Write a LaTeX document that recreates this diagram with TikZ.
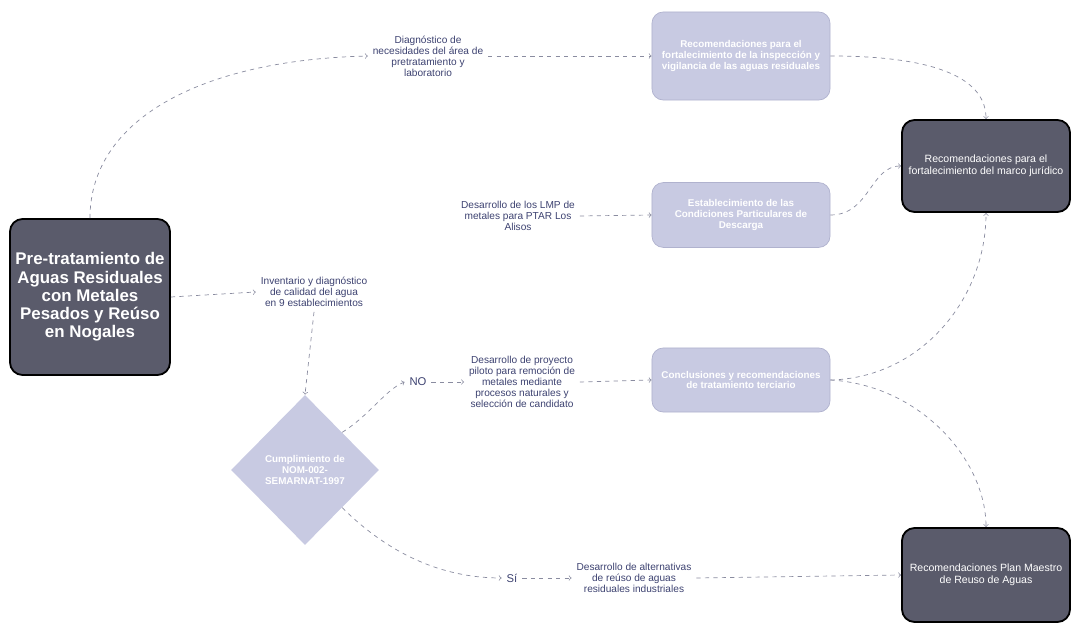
\documentclass[tikz,border=0pt]{standalone}
\usepackage{fontspec}
\setmainfont{Liberation Sans}
\usetikzlibrary{shapes}

\definecolor{caja}{HTML}{5A5B6B}
\definecolor{cajaclara}{HTML}{C8CAE2}
\definecolor{bordeclaro}{HTML}{B0B2CE}
\definecolor{texto}{HTML}{3C4170}
\definecolor{linea}{HTML}{8A8CA0}

\begin{document}
\begin{tikzpicture}[x=0.025cm,y=-0.025cm,line width=0.5pt]
\tikzstyle{oscuro}=[draw=black,line width=1.3pt,fill=caja,rounded corners=9pt,text=white,align=center,font=\fontsize{7.5}{8.2}\selectfont];
\tikzstyle{claro}=[draw=bordeclaro,fill=cajaclara,rounded corners=8pt,text=white,align=center,font=\bfseries\fontsize{7}{7.8}\selectfont,minimum width=4.45cm];
\tikzstyle{etiq}=[text=texto,align=center,font=\fontsize{7.2}{7.9}\selectfont];
\tikzstyle{dir}=[->,draw=linea,dashed];

\useasboundingbox (0,0) rectangle (1073,628);

\node [oscuro,minimum width=4cm,minimum height=3.9cm,font=\bfseries\fontsize{12}{13}\selectfont] (v0) at (90,297) {Pre-tratamiento de\\Aguas Residuales\\con Metales\\Pesados y Reúso\\en Nogales};
\node [claro,minimum height=2.2cm] (vA) at (741,56) {Recomendaciones para el\\fortalecimiento de la inspección y\\vigilancia de las aguas residuales};
\node [claro,minimum height=1.62cm] (vB) at (741,215) {Establecimiento de las\\Condiciones Particulares de\\Descarga};
\node [claro,minimum height=1.6cm] (vC) at (741,380) {Conclusiones y recomendaciones\\de tratamiento terciario};
\node [oscuro,minimum width=4.2cm,minimum height=2.3cm] (vD) at (986,166) {Recomendaciones para el\\fortalecimiento del marco jurídico};
\node [oscuro,minimum width=4.2cm,minimum height=2.35cm] (vE) at (986,575) {Recomendaciones Plan Maestro\\de Reuso de Aguas};
\node [diamond,aspect=1,fill=cajaclara,inner sep=0pt,minimum width=3.7cm,minimum height=3.75cm,text=white,align=center,font=\bfseries\fontsize{7}{7.8}\selectfont] (d) at (305,470) {Cumplimiento de\\NOM-002-\\SEMARNAT-1997};

\node [etiq] (t1) at (428,56) {Diagnóstico de\\necesidades del área de\\pretratamiento y\\laboratorio};
\node [etiq] (t2) at (518,216) {Desarrollo de los LMP de\\metales para PTAR Los\\Alisos};
\node [etiq] (t3) at (314,292) {Inventario y diagnóstico\\de calidad del agua\\en 9 establecimientos};
\node [etiq] (t4) at (522,382) {Desarrollo de proyecto\\piloto para remoción de\\metales mediante\\procesos naturales y\\selección de candidato};
\node [etiq] (t5) at (634,578) {Desarrollo de alternativas\\de reúso de aguas\\residuales industriales};
\node [text=texto,font=\fontsize{8}{9}\selectfont] (no) at (418,382) {NO};
\node [text=texto,font=\fontsize{8}{9}\selectfont] (si) at (512,578) {Sí};

\draw [dir] (v0.north) .. controls (90,120) and (200,60) .. (t1.west);
\draw [dir] (t1.east) -- (vA.west);
\draw [dir] (vA.east) .. controls (940,56) and (986,80) .. (vD.north);
\draw [dir] (t2.east) -- (vB.west);
\draw [dir] (vB.east) .. controls (870,215) and (870,166) .. (vD.west);
\draw [dir] (v0.east) -- (t3.west);
\draw [dir] (t3.south) -- (d.north);
\draw [dir] (d.north east) .. controls (370,415) and (385,390) .. (no.west);
\draw [dir] (no.east) -- (t4.west);
\draw [dir] (t4.east) -- (vC.west);
\draw [dir] (vC.east) .. controls (920,378) and (986,300) .. (vD.south);
\draw [dir] (vC.east) .. controls (920,385) and (986,460) .. (vE.north);
\draw [dir] (d.south east) .. controls (395,560) and (450,578) .. (si.west);
\draw [dir] (si.east) -- (t5.west);
\draw [dir] (t5.east) -- (vE.west);
\end{tikzpicture}
\end{document}
